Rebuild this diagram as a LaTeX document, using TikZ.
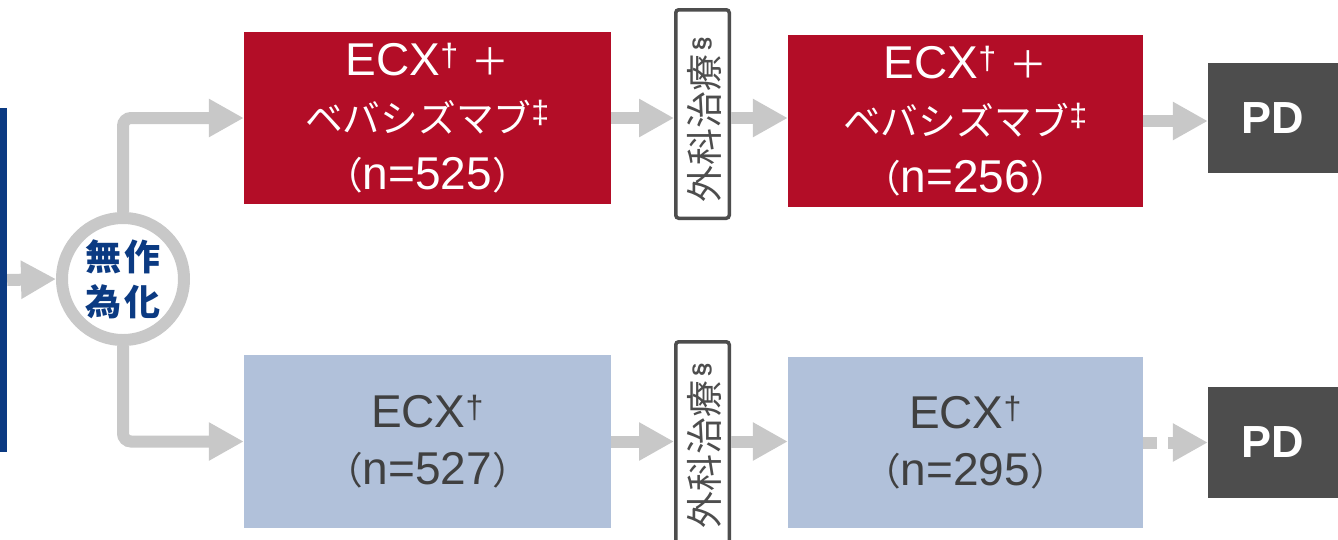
\documentclass[tikz,border=0pt]{standalone}
\usepackage{fontspec}
\setmainfont{Liberation Sans}
\newfontfamily\jp[Scale=0.82]{Noto Sans CJK JP}
\newfontfamily\jpn{Noto Sans CJK JP}
\usetikzlibrary{arrows.meta}
\definecolor{ored}{HTML}{B30D27}
\definecolor{oblue}{HTML}{B1C1DA}
\definecolor{odark}{HTML}{4D4D4D}
\definecolor{agray}{HTML}{C8C8C8}
\definecolor{nblue}{HTML}{0B3A82}
\definecolor{tgray}{HTML}{404040}
\tikzset{
  arr/.style={draw=agray, line width=12pt, -{Triangle[length=35pt,width=36pt]}},
  box/.style={inner sep=0pt, align=center, font=\fontsize{46}{57}\selectfont},
  redbox/.style={box, fill=ored, text=white},
  bluebox/.style={box, fill=oblue, text=tgray},
  surg/.style={draw=odark, line width=3.5pt, fill=white, rounded corners=3pt, minimum width=53.5pt, minimum height=208.5pt, inner sep=0pt},
  surgtext/.style={text=odark, inner sep=0pt, font=\jpn\fontsize{37}{37}\selectfont},
  pdbox/.style={fill=odark, text=white, inner sep=0pt, font=\bfseries\fontsize{45}{45}\selectfont},
}
\newcommand{\surgsign}{\rotatebox{90}{外科治療\hspace{4pt}\raisebox{9pt}{\fontspec{Liberation Sans}\bfseries\fontsize{24}{24}\selectfont §}}}
\begin{document}
\begin{tikzpicture}[x=1pt,y=-1pt]
\clip (0,0) rectangle (1338,539);
\fill[white] (0,0) rectangle (1338,539);
% nodes
\node[fill=nblue, minimum width=7pt, minimum height=344pt, inner sep=0pt] (bar) at (3.5,280) {};
\node[circle, draw=agray, line width=12pt, fill=white, minimum size=122pt, inner sep=0pt,
      text=nblue, align=center, font=\jpn\bfseries\fontsize{36}{45}\selectfont] (rand) at (123,279) {無\hspace{3pt}作\\為\hspace{3pt}化};
\node[redbox, minimum width=367pt, minimum height=172pt] (b1) at (427.5,118)
  {ECX\textsuperscript{†} {\jp ＋}\\{\jp ベバシズマブ}\textsuperscript{‡}\\{\jp （}n=525{\jp ）}};
\node[surg] (s1) at (702.5,114) {};
\node[surgtext] (t1) at (704,120) {\surgsign};
\node[redbox, minimum width=355pt, minimum height=172pt] (b2) at (965.5,121)
  {ECX\textsuperscript{†} {\jp ＋}\\{\jp ベバシズマブ}\textsuperscript{‡}\\{\jp （}n=256{\jp ）}};
\node[pdbox, minimum width=130pt, minimum height=110pt] (pd1) at (1273,118) {PD};

\node[bluebox, minimum width=367pt, minimum height=173pt] (b3) at (427.5,441.5)
  {ECX\textsuperscript{†}\\{\jp （}n=527{\jp ）}};
\node[surg] (s2) at (702.5,446) {};
\node[surgtext] (t2) at (704,446) {\surgsign};
\node[bluebox, minimum width=355pt, minimum height=171pt] (b4) at (965.5,442.5)
  {ECX\textsuperscript{†}\\{\jp （}n=295{\jp ）}};
\node[pdbox, minimum width=130pt, minimum height=111pt] (pd2) at (1273,442.5) {PD};

% connectors
\draw[arr] (bar.east) -- (rand.west);
\draw[arr, rounded corners=8pt] (rand.north) |- (b1.west);
\draw[arr, rounded corners=8pt] (rand.south) |- (b3.west);
\draw[arr] (b1.east) -- (b1.east -| s1.west);
\draw[arr] (s1.east |- b1.east) -- (b1.east -| b2.west);
\draw[arr] (b2.east) -- (b2.east -| pd1.west);
\draw[arr] (b3.east) -- (b3.east -| s2.west);
\draw[arr] (s2.east |- b3.east) -- (b3.east -| b4.west);
\draw[arr, dash pattern=on 14pt off 11pt] (b4.east) -- (pd2.west);
\end{tikzpicture}
\end{document}
